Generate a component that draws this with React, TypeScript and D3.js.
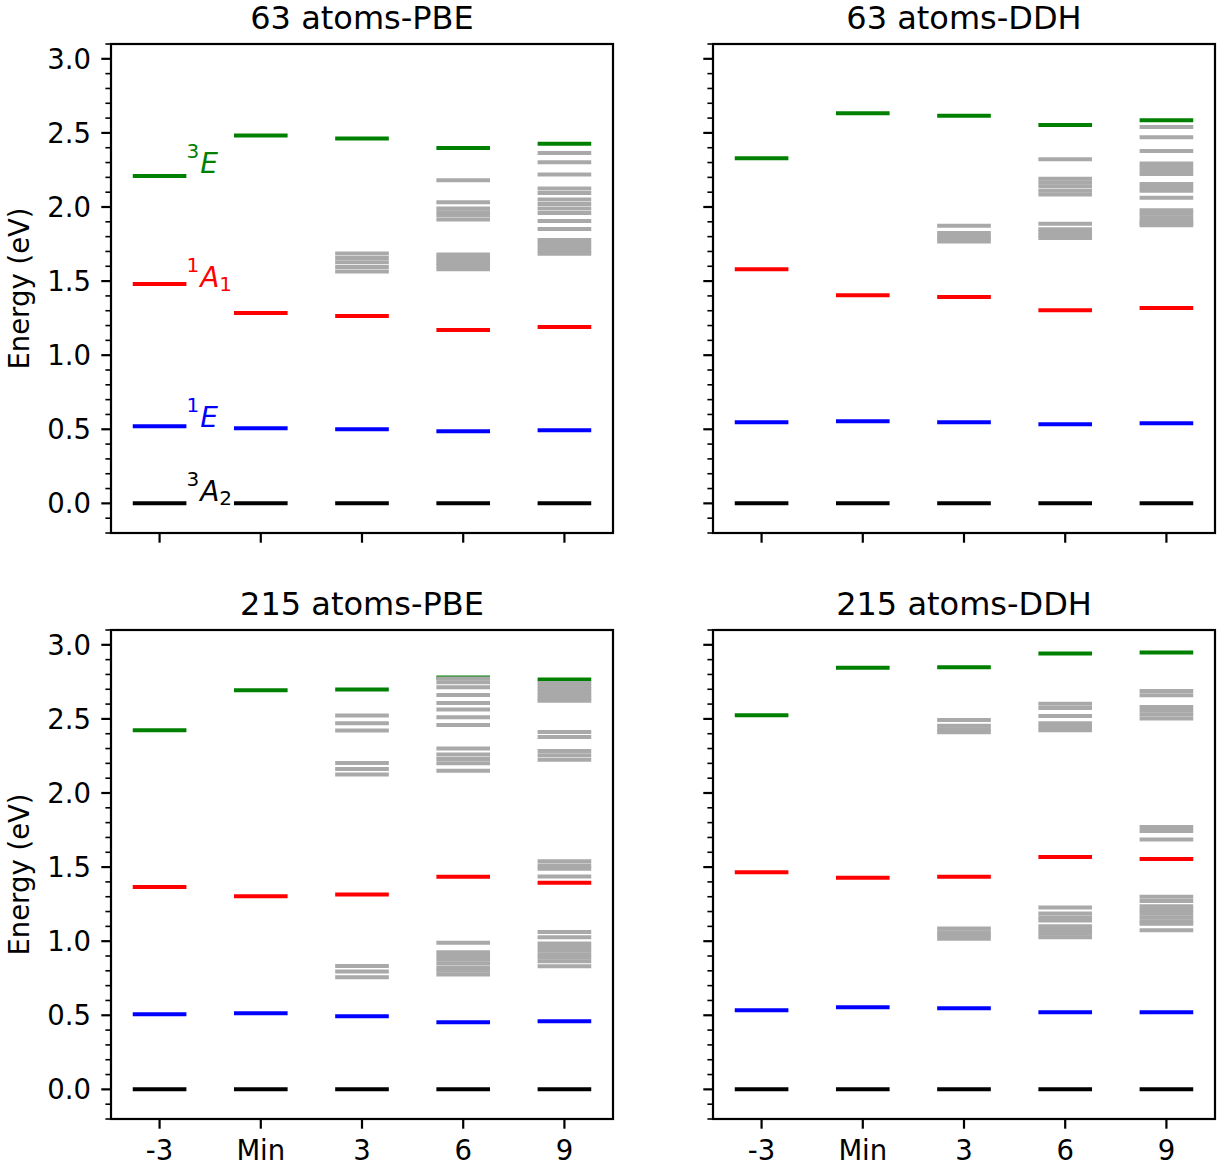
import React from "react";
import * as d3 from "d3";

const categories = ["-3", "Min", "3", "6", "9"];
const yMajorTicks = [0, 0.5, 1, 1.5, 2, 2.5, 3];

// 63 atoms - PBE
const pbe63_3A2 = [0, 0, 0, 0, 0];
const pbe63_1E = [0.52, 0.507, 0.5, 0.486, 0.493];
const pbe63_1A1 = [1.48, 1.284, 1.264, 1.17, 1.19];
const pbe63_3E = [2.21, 2.482, 2.463, 2.398, 2.426];
const pbe63_gray = [
  [],
  [],
  [1.687, 1.655, 1.627, 1.595, 1.565],
  [2.18, 2.032, 1.99, 1.965, 1.945, 1.915, 1.68, 1.66, 1.64, 1.62, 1.6, 1.58],
  [2.365, 2.302, 2.22, 2.125, 2.095, 2.05, 2.02, 1.99, 1.96, 1.905, 1.851, 1.777, 1.755, 1.73, 1.705, 1.684],
];

// 63 atoms - DDH
const ddh63_3A2 = [0, 0, 0, 0, 0];
const ddh63_1E = [0.547, 0.554, 0.547, 0.534, 0.54];
const ddh63_1A1 = [1.58, 1.405, 1.392, 1.304, 1.318];
const ddh63_3E = [2.329, 2.633, 2.615, 2.554, 2.586];
const ddh63_gray = [
  [],
  [],
  [1.874, 1.825, 1.8, 1.785, 1.768],
  [2.322, 2.19, 2.165, 2.14, 2.11, 2.085, 1.887, 1.85, 1.83, 1.81, 1.79],
  [2.54, 2.47, 2.378, 2.294, 2.27, 2.245, 2.223, 2.155, 2.13, 2.11, 2.063, 1.978, 1.955, 1.93, 1.905, 1.89, 1.876],
];

// 215 atoms - PBE
const pbe215_3A2 = [0, 0, 0, 0, 0];
const pbe215_1E = [0.507, 0.514, 0.493, 0.453, 0.459];
const pbe215_1A1 = [1.365, 1.304, 1.315, 1.435, 1.394];
const pbe215_3E = [2.424, 2.693, 2.698, 2.78, 2.766];
const pbe215_gray = [
  [],
  [],
  [2.523, 2.471, 2.421, 2.203, 2.162, 2.125, 0.833, 0.795, 0.757],
  [2.772, 2.748, 2.714, 2.662, 2.608, 2.563, 2.511, 2.459, 2.3, 2.26, 2.23, 2.2, 2.15, 0.99, 0.925, 0.9, 0.875, 0.85, 0.82, 0.8, 0.775],
  [2.742, 2.72, 2.7, 2.68, 2.66, 2.64, 2.622, 2.412, 2.378, 2.284, 2.255, 2.225, 1.54, 1.51, 1.489, 1.437, 1.062, 1.027, 0.985, 0.96, 0.935, 0.91, 0.89, 0.865, 0.83],
];

// 215 atoms - DDH
const ddh215_3A2 = [0, 0, 0, 0, 0];
const ddh215_1E = [0.534, 0.554, 0.547, 0.52, 0.52];
const ddh215_1A1 = [1.466, 1.428, 1.435, 1.568, 1.554];
const ddh215_3E = [2.525, 2.845, 2.849, 2.941, 2.948];
const ddh215_gray = [
  [],
  [],
  [2.493, 2.453, 2.43, 2.41, 1.086, 1.06, 1.04, 1.016],
  [2.603, 2.574, 2.519, 2.47, 2.445, 2.424, 1.228, 1.187, 1.16, 1.14, 1.1, 1.075, 1.05, 1.027],
  [2.689, 2.66, 2.58, 2.555, 2.53, 2.502, 1.77, 1.743, 1.687, 1.3, 1.272, 1.236, 1.21, 1.185, 1.16, 1.135, 1.117, 1.074],
];

const panelTitles = ["63 atoms-PBE", "63 atoms-DDH", "215 atoms-PBE", "215 atoms-DDH"];

const COLORS = { k: "#000000", b: "#0000ff", r: "#ff0000", g: "#008000", gray: "#a9a9a9" };
const FONT = "DejaVu Sans, Liberation Sans, sans-serif";

const W = 502;
const H = 489;
const HALF = 0.265;
const LW = 4;

const panels = [
  { title: panelTitles[0], a2: pbe63_3A2, e1: pbe63_1E, a1: pbe63_1A1, e3: pbe63_3E, gray: pbe63_gray, left: 111, top: 44, yLabels: true, xLabels: false, annotate: true },
  { title: panelTitles[1], a2: ddh63_3A2, e1: ddh63_1E, a1: ddh63_1A1, e3: ddh63_3E, gray: ddh63_gray, left: 713, top: 44, yLabels: false, xLabels: false, annotate: false },
  { title: panelTitles[2], a2: pbe215_3A2, e1: pbe215_1E, a1: pbe215_1A1, e3: pbe215_3E, gray: pbe215_gray, left: 111, top: 630, yLabels: true, xLabels: true, annotate: false },
  { title: panelTitles[3], a2: ddh215_3A2, e1: ddh215_1E, a1: ddh215_1A1, e3: ddh215_3E, gray: ddh215_gray, left: 713, top: 630, yLabels: false, xLabels: true, annotate: false },
];

function Panel({ p }: { p: any }) {
  const x = d3.scaleLinear().domain([-0.48, 4.48]).range([0, W]);
  const y = d3.scaleLinear().domain([-0.2, 3.1]).range([H, 0]);
  const minor = d3.range(-2, 32).map((i) => i / 10).filter((v) => Math.round(v * 10) % 5 !== 0);

  const series = [
    { vals: p.a2, color: COLORS.k },
    { vals: p.e1, color: COLORS.b },
    { vals: p.a1, color: COLORS.r },
    { vals: p.e3, color: COLORS.g },
  ];

  const levelLine = (i: number, v: number, color: string, key: string) => (
    <line key={key} x1={x(i - HALF)} x2={x(i + HALF)} y1={y(v)} y2={y(v)} stroke={color} strokeWidth={LW} />
  );

  return (
    <g transform={`translate(${p.left},${p.top})`}>
      <text x={W / 2} y={-15} textAnchor="middle" fontFamily={FONT} fontSize={32} fill="#000">
        {p.title}
      </text>
      <defs>
        <clipPath id={`clip-${p.left}-${p.top}`}>
          <rect x={0} y={0} width={W} height={H} />
        </clipPath>
      </defs>
      <g clipPath={`url(#clip-${p.left}-${p.top})`}>
        {series.map((s, si) => s.vals.map((v: number, i: number) => levelLine(i, v, s.color, `s${si}-${i}`)))}
        {p.gray.map((arr: number[], i: number) => arr.map((v, j) => levelLine(i, v, COLORS.gray, `g${i}-${j}`)))}
      </g>
      {p.annotate && (
        <g fontFamily={FONT} fontSize={28}>
          <text x={x(0 + HALF)} y={y(p.e3[0]) - 3} fill={COLORS.g}>
            <tspan fontSize={20} dy={-15}>3</tspan>
            <tspan fontStyle="italic" dy={15} dx={1}>E</tspan>
          </text>
          <text x={x(0 + HALF)} y={y(p.a1[0]) + 3} fill={COLORS.r}>
            <tspan fontSize={20} dy={-15}>1</tspan>
            <tspan fontStyle="italic" dy={15} dx={1}>A</tspan>
            <tspan fontSize={20} dy={4}>1</tspan>
          </text>
          <text x={x(0 + HALF)} y={y(p.e1[0]) + 1} fill={COLORS.b}>
            <tspan fontSize={20} dy={-15}>1</tspan>
            <tspan fontStyle="italic" dy={15} dx={1}>E</tspan>
          </text>
          <text x={x(0 + HALF)} y={y(p.a2[0]) - 2} fill={COLORS.k}>
            <tspan fontSize={20} dy={-15}>3</tspan>
            <tspan fontStyle="italic" dy={15} dx={1}>A</tspan>
            <tspan fontSize={20} dy={4}>2</tspan>
          </text>
        </g>
      )}
      <rect x={0} y={0} width={W} height={H} fill="none" stroke="#000" strokeWidth={2.2} />
      {yMajorTicks.map((t) => (
        <g key={`ym${t}`}>
          <line x1={-9.7} x2={0} y1={y(t)} y2={y(t)} stroke="#000" strokeWidth={2.2} />
          {p.yLabels && (
            <text x={-20} y={y(t)} dy="0.36em" textAnchor="end" fontFamily={FONT} fontSize={27.5} fill="#000">
              {t.toFixed(1)}
            </text>
          )}
        </g>
      ))}
      {minor.map((t) => (
        <line key={`yn${t}`} x1={-5.6} x2={0} y1={y(t)} y2={y(t)} stroke="#000" strokeWidth={1.6} />
      ))}
      {p.yLabels && (
        <text transform={`translate(${-82},${H / 2}) rotate(-90)`} textAnchor="middle" fontFamily={FONT} fontSize={27.5} fill="#000">
          Energy (eV)
        </text>
      )}
      {categories.map((c, i) => (
        <g key={`x${c}`}>
          <line x1={x(i)} x2={x(i)} y1={H} y2={H + 9.7} stroke="#000" strokeWidth={2.2} />
          {p.xLabels && (
            <text x={x(i)} y={H + 41} textAnchor="middle" fontFamily={FONT} fontSize={27.5} fill="#000">
              {c}
            </text>
          )}
        </g>
      ))}
    </g>
  );
}

export default function App() {
  return (
    <svg width={1225} height={1168} style={{ position: "absolute", left: 0, top: 0, background: "#fff" }}>
      <rect x={0} y={0} width={1225} height={1168} fill="#fff" />
      {panels.map((p, i) => (
        <Panel key={i} p={p} />
      ))}
    </svg>
  );
}
